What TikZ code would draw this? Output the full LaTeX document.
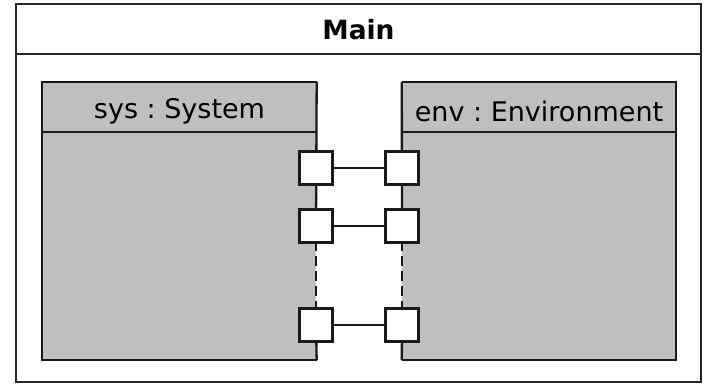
\documentclass[tikz,border=0pt]{standalone}
\usepackage{fontspec}
\setmainfont{DejaVu Sans}
\frenchspacing
\begin{document}
\begin{tikzpicture}[x=1pt,y=-1pt,
  frame/.style={draw=black!85,line width=1.8pt,minimum width=685pt,minimum height=378pt,inner sep=0pt},
  part/.style={fill=gray!50!white,draw=none,minimum width=274pt,minimum height=278pt,inner sep=0pt},
  edge/.style={line width=2.3pt,black!90},
  port/.style={draw=black!90,line width=2.5pt,fill=white,minimum size=33pt,inner sep=0pt},
  lbl/.style={font=\fontsize{27pt}{31pt}\selectfont,inner sep=0pt},
  conn/.style={line width=2.3pt,black!90}]
\useasboundingbox (0,0) rectangle (706,384);
\fill[white] (0,0) rectangle (706,384);
% outer frame
\node[frame] (main) at (358.5,193) {};
\draw[draw=black!85,line width=1.8pt] (main.west |- 0,54) coordinate (ms1) -- (main.east |- 0,54) coordinate (ms2);
\node[lbl,font=\fontsize{26.5pt}{30pt}\selectfont\bfseries] (mt) at (358.5,30) {Main};
% parts
\node[part] (sys) at (179.5,221) {};
\node[part] (env) at (539,221) {};
% ports
\path (316,168) coordinate (sp1c) (316,226) coordinate (sp2c) (316,325) coordinate (sp3c)
      (402,168) coordinate (ep1c) (402,226) coordinate (ep2c) (402,325) coordinate (ep3c);
\fill[white] (316,243) rectangle (320,308);
\fill[white] (398,243) rectangle (402,308);
% part outlines
\draw[edge] (sys.north east) -- (sys.north west) -- (sys.south west) -- (sys.south east);
\draw[edge] (sys.north west |- 0,132) coordinate (sh1) -- (sys.north east |- 0,132) coordinate (sh2);
\draw[edge] (sys.north east) -- (sp2c);
\draw[edge,dash pattern=on 10pt off 5pt] (sp2c) -- (sp3c);
\draw[edge] (sp3c) -- (sys.south east);
\draw[edge] (env.north west) -- (env.north east) -- (env.south east) -- (env.south west);
\draw[edge] (env.north west |- 0,132) coordinate (eh1) -- (env.north east |- 0,132) coordinate (eh2);
\draw[edge] (env.north west) -- (ep2c);
\draw[edge,dash pattern=on 10pt off 5pt] (ep2c) -- (ep3c);
\draw[edge] (ep3c) -- (env.south west);
\node[lbl] (syst) at (179.5,111) {sys : System};
\node[lbl] (envt) at (539,111) {env : Environment};
% port nodes
\node[port] (sp1) at (sp1c) {};
\node[port] (sp2) at (sp2c) {};
\node[port] (sp3) at (sp3c) {};
\node[port] (ep1) at (ep1c) {};
\node[port] (ep2) at (ep2c) {};
\node[port] (ep3) at (ep3c) {};
% connectors
\draw[conn] (sp1) -- (ep1);
\draw[conn] (sp2) -- (ep2);
\draw[conn] (sp3) -- (ep3);
\end{tikzpicture}
\end{document}
